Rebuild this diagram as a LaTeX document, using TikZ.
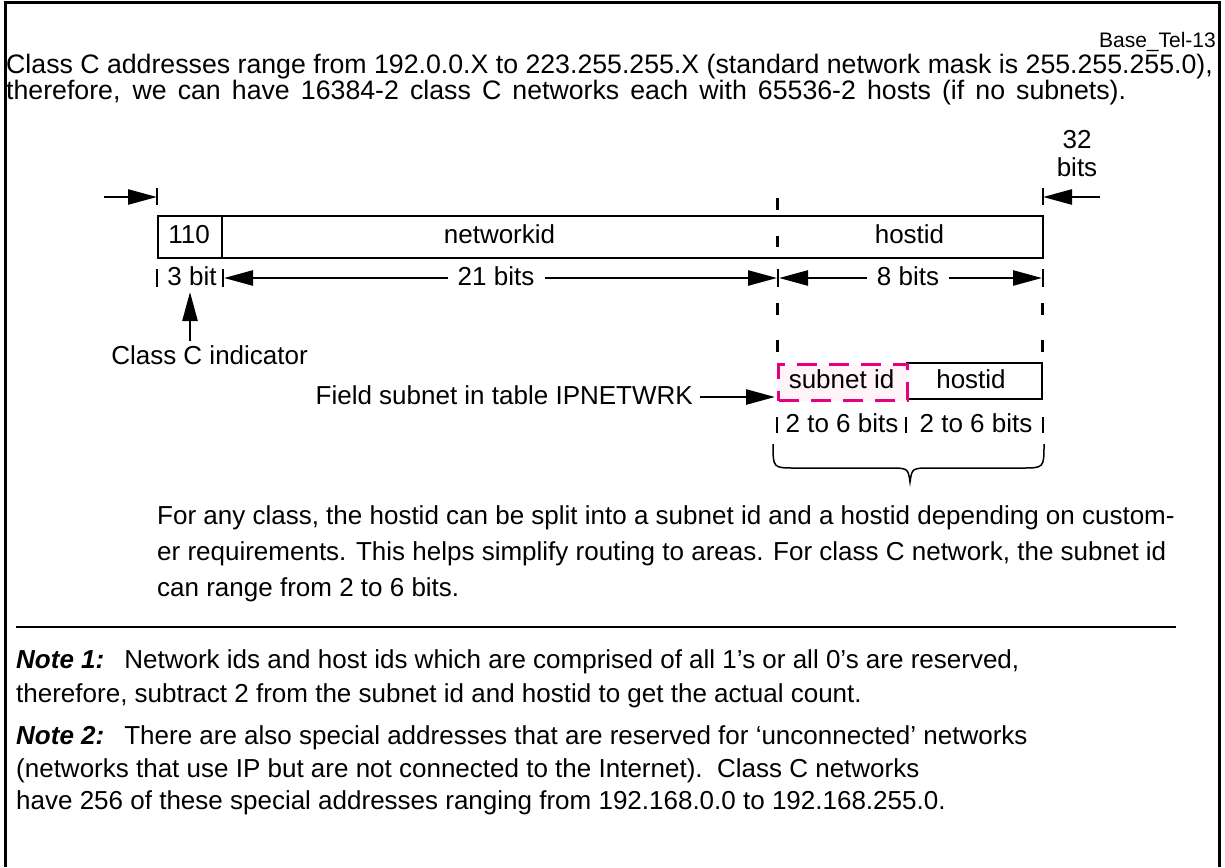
\documentclass[tikz,border=0pt]{standalone}
\usepackage{fontspec}
\setmainfont{Liberation Sans}
\usetikzlibrary{arrows.meta}
\definecolor{pinkd}{RGB}{230,0,126}
\definecolor{pinkl}{RGB}{255,244,248}
\begin{document}
\begin{tikzpicture}[x=1pt,y=-1pt,
  every node/.style={inner sep=0pt, font=\fontsize{26}{30}\selectfont, text height=19pt, text depth=5pt},
  hdr/.style={font=\fontsize{26.7}{30}\selectfont},
  tagtxt/.style={font=\fontsize{21}{24}\selectfont},
  dim/.style={inner xsep=10pt},
  box/.style={draw, line width=2pt},
  arr/.style={line width=2.5pt, -{Triangle[length=29pt,width=15pt]}},
  tick/.style={line width=1.5pt},
  dashv/.style={line width=3pt},
  frame/.style={line width=3pt},
  sepline/.style={line width=1.5pt},
  brace/.style={line width=1.5pt},
  subnetbox/.style={draw=pinkd, fill=pinkl, line width=3pt, dash pattern=on 20pt off 12pt}
]
\useasboundingbox (0,0) rectangle (1225,867);

% frame
\draw[frame] (5,867) -- (5,3) -- (1219,3) -- (1219,867);
\node[anchor=east, tagtxt] (tag) at (1216,41) {Base\_Tel-13};
\node[anchor=west, hdr] (h1) at (6,67) {Class C addresses range from 192.0.0.X to 223.255.255.X (standard network mask is 255.255.255.0),};
\node[anchor=west, hdr] (h2) at (6,92) {\makebox[1120pt][s]{therefore, we can have 16384-2 class C networks each with 65536-2 hosts (if no subnets).}};

% 32 bits
\node (n32) at (1077,141) {32};
\node (nbits) at (1077,169) {bits};
\coordinate (L0) at (104,197); \coordinate (L1) at (157,197);
\draw[arr] (L0) -- (L1);
\draw[tick] (157,188) -- (157,205);
\coordinate (R0) at (1100,197); \coordinate (R1) at (1043,197);
\draw[arr] (R0) -- (R1);
\draw[tick] (1043,188) -- (1043,205);

% register
\node[box, anchor=north west, minimum width=885pt, minimum height=42pt, text height=0pt, text depth=0pt] (reg) at (157,215) {};
\draw[box] (222,215) -- (222,257);
\node (f110) at (189,236) {110};
\node (fnet) at (499.5,236) {networkid};
\node (fhost) at (909.5,236) {hostid};

% dashed verticals
\draw[dashv] (777,198)--(777,210) (777,236)--(777,247) (777,303)--(777,315) (777,340)--(777,352);
\draw[dashv] (1042,303)--(1042,315) (1042,340)--(1042,352);

% dimension row
\draw[tick] (157,269)--(157,287) (223,269)--(223,287) (778,269)--(778,287) (1043,269)--(1043,287);
\node (d3) at (192,278) {3 bit};
\node[dim] (d21) at (496,278) {21 bits};
\coordinate (a21l) at (224,278); \coordinate (a21r) at (777,278);
\draw[arr] (d21.west) -- (a21l);
\draw[arr] (d21.east) -- (a21r);
\node[dim] (d8) at (908,278) {8 bits};
\coordinate (a8l) at (779,278); \coordinate (a8r) at (1042,278);
\draw[arr] (d8.west) -- (a8l);
\draw[arr] (d8.east) -- (a8r);

% class C indicator
\node[anchor=east] (cci) at (308,357) {Class C indicator};
\coordinate (ccitop) at (190,341); \coordinate (ccitip) at (190,292);
\draw[arr] (ccitop) -- (ccitip);

% subnet box
\draw[box] (906,363) -- (1042,363) -- (1042,399) -- (906,399);
\node[subnetbox, anchor=north west, minimum width=129pt, minimum height=36pt, text height=0pt, text depth=0pt] (sid) at (777,363) {};
\node (sidt) at (841.5,381) {subnet id};
\node (shost) at (971,381) {hostid};

% field subnet
\node[anchor=east] (fs) at (693,397) {Field subnet in table IPNETWRK};
\coordinate (fstip) at (775,397);
\draw[arr] ([xshift=7pt]fs.east) -- (fstip);

% bits row
\draw[tick] (777,417)--(777,433) (906,417)--(906,433) (1043,417)--(1043,433);
\node (b1) at (842,425) {2 to 6 bits};
\node (b2) at (976,425) {2 to 6 bits};

% brace
\draw[brace] (773,444) .. controls (773,468) .. (795,468) -- (888,468) .. controls (908,468) .. (910,482) .. controls (912,468) .. (932,468) -- (1022,468) .. controls (1044,468) .. (1044,444);

% paragraph
\node[anchor=west] (p1) at (157,517) {For any class, the hostid can be split into a subnet id and a hostid depending on custom-};
\node[anchor=west] (p2) at (157,553) {er requirements. This helps simplify routing to areas. For class C network, the subnet id};
\node[anchor=west] (p3) at (157,589) {can range from 2 to 6 bits.};

% separator
\draw[sepline] (16,627) -- (1176,627);

% notes
\node[anchor=west] (n1a) at (16,661) {\textbf{\textit{Note 1:}}\hspace{20pt}Network ids and host ids which are comprised of all 1’s or all 0’s are reserved,};
\node[anchor=west] (n1b) at (16,695) {therefore, subtract 2 from the subnet id and hostid to get the actual count.};
\node[anchor=west] (n2a) at (16,737) {\textbf{\textit{Note 2:}}\hspace{20pt}There are also special addresses that are reserved for ‘unconnected’ networks};
\node[anchor=west] (n2b) at (16,770) {(networks that use IP but are not connected to the Internet).\ \ Class C networks};
\node[anchor=west] (n2c) at (16,802) {have 256 of these special addresses ranging from 192.168.0.0 to 192.168.255.0.};
\end{tikzpicture}
\end{document}
